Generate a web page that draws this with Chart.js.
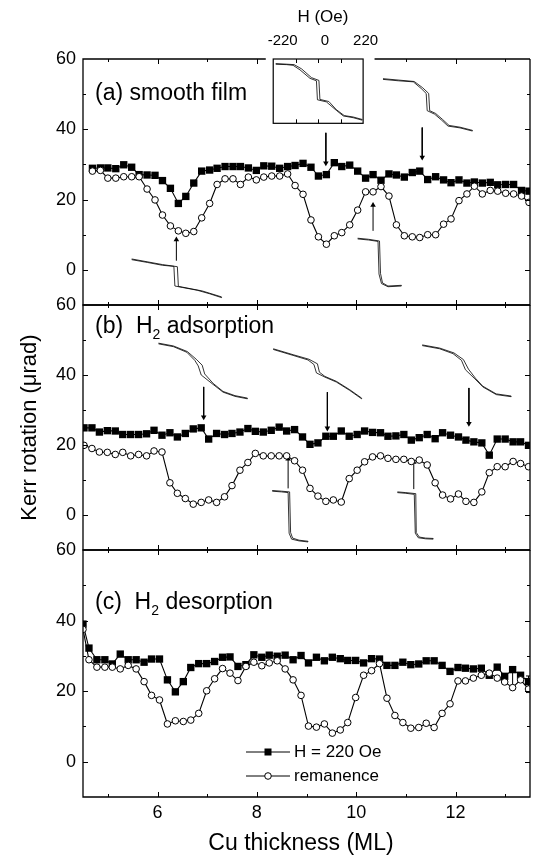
<!DOCTYPE html>
<html>
<head>
<meta charset="utf-8">
<script src="https://cdn.jsdelivr.net/npm/chart.js@4.4.1/dist/chart.umd.min.js"></script>
<style>
  html, body { margin: 0; padding: 0; background: #fff; }
  #wrap { position: relative; width: 536px; height: 858px; background: #fff; }
  #wrap canvas { position: absolute; left: 0; top: 0; }
</style>
</head>
<body>
<div id="wrap">
  <canvas id="panelA" width="536" height="858"></canvas>
  <canvas id="panelB" width="536" height="858"></canvas>
  <canvas id="panelC" width="536" height="858"></canvas>
</div>
<script>
const FONT = '"Liberation Sans", Arial, Helvetica, sans-serif';

// -----------------------------
// DATA  (Cu thickness in ML, Kerr rotation in urad)
// -----------------------------
const xTicks = [5, 6, 7, 8, 9, 10, 11, 12, 13];
const yTicks = [0, 20, 40, 60];

// (a) smooth film
const thickA = [4.69, 4.85, 5.00, 5.16, 5.32, 5.48, 5.63, 5.79, 5.95, 6.10,
                6.26, 6.42, 6.57, 6.73, 6.89, 7.05, 7.20, 7.36, 7.52, 7.67,
                7.83, 7.99, 8.14, 8.30, 8.46, 8.62, 8.77, 8.93, 9.09, 9.24,
                9.40, 9.56, 9.71, 9.87, 10.03, 10.19, 10.34, 10.50, 10.66, 10.81,
                10.97, 11.13, 11.28, 11.44, 11.60, 11.76, 11.91, 12.07, 12.23, 12.38,
                12.54, 12.70, 12.85, 13.01, 13.17, 13.33, 13.48];
const fieldA = [28.9, 29.0, 29.0, 28.8, 29.9, 29.2, 27.1, 27.0, 26.9, 25.4,
                23.2, 18.9, 20.9, 24.7, 28.1, 28.4, 28.9, 29.4, 29.4, 29.4,
                29.0, 28.3, 29.6, 29.5, 28.9, 29.4, 29.7, 30.3, 29.2, 26.7,
                27.1, 30.5, 29.4, 29.8, 28.1, 26.1, 27.1, 25.5, 27.3, 27.0,
                26.4, 27.7, 28.1, 25.7, 26.5, 25.6, 24.8, 25.6, 24.7, 25.0,
                24.7, 24.9, 24.2, 24.3, 24.3, 22.6, 22.4];
const remA   = [28.1, 28.3, 26.1, 26.1, 26.5, 26.5, 26.5, 23.0, 19.9, 15.6,
                12.5, 11.1, 10.4, 10.9, 14.8, 18.9, 24.3, 25.9, 25.9, 24.3,
                26.4, 25.6, 26.4, 26.7, 26.7, 27.3, 24.0, 21.5, 14.2, 9.4,
                7.3, 9.7, 10.6, 12.8, 17.0, 22.2, 22.2, 23.7, 21.0, 12.8,
                9.7, 9.4, 9.2, 10.0, 10.0, 13.0, 14.5, 19.7, 21.6, 23.8,
                21.6, 22.6, 22.4, 21.8, 21.6, 21.0, 19.2];

// (b) H2 adsorption
const thickB = [4.52, 4.68, 4.83, 4.99, 5.15, 5.30, 5.46, 5.62, 5.78, 5.93,
                6.09, 6.25, 6.40, 6.56, 6.72, 6.88, 7.03, 7.19, 7.35, 7.50,
                7.66, 7.82, 7.97, 8.13, 8.29, 8.45, 8.60, 8.76, 8.92, 9.07,
                9.23, 9.39, 9.54, 9.70, 9.86, 10.02, 10.17, 10.33, 10.49, 10.64,
                10.80, 10.96, 11.11, 11.27, 11.43, 11.59, 11.74, 11.90, 12.06, 12.21,
                12.37, 12.53, 12.68, 12.84, 13.00, 13.16, 13.31, 13.47];
const fieldB = [24.9, 24.9, 23.7, 24.1, 24.0, 23.0, 23.0, 23.0, 23.2, 24.2,
                22.8, 23.5, 22.3, 23.3, 24.6, 24.9, 21.7, 23.3, 23.0, 23.3,
                23.7, 24.7, 23.9, 23.7, 24.2, 25.1, 24.0, 24.4, 22.3, 20.2,
                20.6, 22.5, 22.5, 24.0, 22.5, 23.0, 24.0, 23.6, 23.5, 22.5,
                22.6, 23.0, 21.4, 22.1, 23.0, 21.8, 23.5, 22.8, 22.3, 21.4,
                20.9, 20.6, 17.1, 21.7, 21.7, 20.9, 20.9, 19.9];
const remB   = [19.9, 19.0, 18.0, 17.9, 17.3, 17.9, 16.9, 17.3, 16.9, 18.3,
                18.0, 9.2, 6.2, 4.7, 3.1, 3.6, 4.3, 3.6, 5.2, 8.4,
                12.8, 15.0, 17.6, 16.9, 16.9, 16.9, 16.9, 15.5, 12.8, 7.6,
                5.4, 3.9, 4.3, 3.7, 10.4, 12.8, 15.2, 16.6, 16.9, 16.2,
                15.9, 15.9, 15.3, 15.7, 14.3, 9.2, 5.7, 4.6, 6.0, 3.9,
                3.6, 6.6, 12.1, 13.8, 13.8, 15.3, 14.7, 13.8];

// (c) H2 desorption
const thickC = [4.50, 4.62, 4.78, 4.94, 5.09, 5.25, 5.41, 5.57, 5.73, 5.88,
                6.04, 6.20, 6.36, 6.52, 6.67, 6.83, 6.99, 7.15, 7.31, 7.46,
                7.62, 7.78, 7.94, 8.10, 8.25, 8.41, 8.57, 8.73, 8.89, 9.04,
                9.20, 9.36, 9.52, 9.68, 9.83, 9.99, 10.15, 10.31, 10.47, 10.62,
                10.78, 10.94, 11.10, 11.26, 11.41, 11.57, 11.73, 11.89, 12.05, 12.20,
                12.36, 12.52, 12.68, 12.84, 12.99, 13.15, 13.31, 13.47];
const fieldC = [39.0, 32.2, 28.9, 28.9, 27.7, 30.5, 28.9, 28.9, 28.2, 29.1,
                29.1, 23.2, 19.8, 22.7, 26.7, 27.8, 27.8, 28.4, 29.6, 29.7,
                27.0, 27.5, 30.3, 29.6, 30.2, 29.9, 30.2, 28.9, 30.1, 28.0,
                29.6, 28.6, 29.6, 29.2, 28.7, 28.7, 28.0, 29.2, 29.1, 27.3,
                27.3, 28.2, 27.5, 27.7, 28.6, 28.6, 27.3, 25.6, 26.7, 26.5,
                26.3, 26.5, 24.5, 26.8, 24.2, 26.1, 24.5, 22.7];
const remC   = [37.5, 28.9, 26.8, 26.8, 26.8, 26.3, 27.3, 26.3, 22.7, 18.8,
                17.5, 10.7, 11.6, 11.4, 11.8, 13.7, 20.1, 23.5, 26.4, 25.1,
                23.0, 27.0, 28.2, 27.2, 28.0, 28.6, 26.3, 23.2, 18.8, 10.1,
                9.8, 10.7, 8.1, 9.0, 11.1, 18.2, 24.5, 25.8, 27.8, 18.0,
                13.1, 11.1, 9.5, 9.7, 10.9, 9.7, 13.7, 16.4, 22.9, 22.9,
                23.7, 24.5, 25.1, 23.7, 22.6, 21.0, 23.2, 20.6];
// error bars near the thick end of (c): [thickness, low, high]
const errC = [[13.15, 21.3, 26.6], [13.47, 19.6, 24.3]];

// hysteresis loop traces, drawn in the panel's own units [thickness, kerr]
const loopsA = [
  [[5.48, 2.9], [5.8, 2.1], [6.1, 1.3], [6.33, 1.0], [6.35, -4.6], [6.5, -5.0], [6.8, -5.8], [7.05, -6.8], [7.29, -7.9],
   [7.29, -7.7], [6.9, -6.0], [6.42, -4.7], [6.40, 0.9], [6.1, 1.5], [5.48, 3.1]],
  [[8.38, 58.5], [8.6, 58.4], [8.73, 58.2], [8.87, 56.9], [9.07, 54.5], [9.2, 53.8], [9.22, 48.4], [9.4, 47.8], [9.6, 45.4], [9.74, 43.8], [9.94, 43.3], [10.12, 42.6],
   [10.12, 42.8], [9.94, 43.5], [9.76, 43.9], [9.6, 45.6], [9.45, 47.9], [9.27, 48.5], [9.25, 53.9], [9.1, 54.7], [8.9, 57.2], [8.75, 58.4], [8.38, 58.7]],
  [[10.54, 54.2], [10.85, 53.8], [11.15, 53.5], [11.31, 51.6], [11.41, 50.2], [11.43, 45.3], [11.58, 44.3], [11.72, 42.6], [11.85, 40.9], [12.09, 40.4], [12.34, 39.5],
   [12.34, 39.7], [12.09, 40.6], [11.87, 41.1], [11.74, 42.8], [11.6, 44.5], [11.48, 45.3], [11.46, 50.2], [11.34, 51.8], [11.17, 53.6], [10.54, 54.4]],
  [[10.03, 8.8], [10.25, 8.5], [10.44, 8.1], [10.46, -1.2], [10.51, -3.9], [10.64, -4.8], [10.91, -4.6],
   [10.91, -4.4], [10.64, -4.6], [10.53, -3.7], [10.49, -1.0], [10.47, 8.2], [10.25, 8.7], [10.03, 9.0]]
];
const loopsB = [
  [[6.02, 48.9], [6.32, 48.1], [6.59, 46.5], [6.75, 44.2], [6.82, 42.6], [6.88, 40.0], [7.12, 37.3], [7.32, 35.1], [7.56, 33.9], [7.81, 33.2],
   [7.81, 33.4], [7.56, 34.1], [7.32, 35.3], [7.12, 37.6], [6.95, 40.3], [6.9, 42.8], [6.78, 44.5], [6.6, 46.7], [6.32, 48.3], [6.02, 49.1]],
  [[8.33, 47.3], [8.73, 45.6], [9.03, 44.3], [9.15, 43.0], [9.2, 40.6], [9.37, 39.4], [9.6, 38.0], [9.87, 35.6], [10.11, 33.2],
   [10.11, 33.4], [9.87, 35.8], [9.6, 38.2], [9.37, 39.6], [9.26, 40.8], [9.22, 43.2], [9.05, 44.5], [8.73, 45.8], [8.33, 47.5]],
  [[11.33, 48.4], [11.68, 47.5], [11.95, 46.1], [12.12, 44.2], [12.2, 41.5], [12.39, 38.9], [12.55, 36.6], [12.82, 34.4], [13.12, 33.8],
   [13.12, 34.0], [12.82, 34.6], [12.55, 36.8], [12.4, 39.1], [12.26, 41.7], [12.16, 44.4], [11.97, 46.3], [11.68, 47.7], [11.33, 48.6]],
  [[8.31, 6.8], [8.5, 6.6], [8.63, 6.4], [8.65, -5.2], [8.70, -6.9], [8.85, -7.4], [9.03, -7.7],
   [9.03, -7.5], [8.85, -7.2], [8.72, -6.6], [8.68, -5.0], [8.66, 6.6], [8.5, 6.8], [8.31, 7.0]],
  [[10.83, 6.4], [11.0, 6.2], [11.17, 5.9], [11.19, -5.2], [11.25, -6.5], [11.4, -6.8], [11.55, -6.9],
   [11.55, -6.7], [11.4, -6.6], [11.27, -6.3], [11.21, -5.0], [11.2, 6.1], [11.0, 6.4], [10.83, 6.6]]
];

// arrows: [thickness, from, to]
const arrowsA = [[6.38, 2.6, 8.6], [9.39, 39.0, 30.4], [11.33, 40.5, 32.0], [10.34, 11.1, 18.4]];
const arrowsB = [[6.93, 36.6, 28.0], [9.42, 35.1, 24.8], [12.27, 36.3, 26.1], [8.63, 7.6, 16.0], [11.16, 7.4, 15.1]];

// field axis of the inset in (a)
const insetH = [-220, 0, 220];

// -----------------------------
// DATASET HELPERS
// -----------------------------
function pairs(xs, ys) {
    return xs.map((x, i) => ({ x: x, y: ys[i] }));
}

function seriesSets(thick, field, rem) {
    return [
        { label: "H = 220 Oe", data: pairs(thick, field), showLine: true,
          borderColor: "#000", borderWidth: 1.1, pointStyle: "rect", pointRadius: 5.2,
          pointBackgroundColor: "#000", pointBorderColor: "#000", pointBorderWidth: 0, order: 2 },
        { label: "remanence", data: pairs(thick, rem), showLine: true,
          borderColor: "#000", borderWidth: 1.1, pointStyle: "circle", pointRadius: 3.3,
          pointBackgroundColor: "#fff", pointBorderColor: "#000", pointBorderWidth: 1, order: 1 }
    ];
}

function loopSets(loops) {
    return loops.map(l => ({
        data: l.map(p => ({ x: p[0], y: p[1] })), showLine: true,
        borderColor: "#000", borderWidth: 0.8, pointRadius: 0, order: 3
    }));
}

function arrowSets(arrows) {
    return arrows.map(a => ({
        data: [{ x: a[0], y: a[1] }, { x: a[0], y: a[2] }], showLine: true,
        borderColor: "#000", borderWidth: 1, pointStyle: "triangle", pointRadius: [0, 3.2],
        pointRotation: a[2] > a[1] ? 0 : 180, pointBackgroundColor: "#000", pointBorderWidth: 0, order: 3
    }));
}

function errorSets(errs) {
    return errs.map(e => ({
        data: [{ x: e[0], y: e[1] }, { x: e[0], y: e[2] }], showLine: true,
        borderColor: "#000", borderWidth: 1, pointStyle: "line", pointRadius: 2.5,
        pointBorderColor: "#000", pointBorderWidth: 1, order: 3
    }));
}

// -----------------------------
// FRAME + TEXT PLUGIN
// -----------------------------
function framePlugin(cfg) {
    return {
        id: "frame",
        afterDraw(chart) {
            const { ctx, chartArea: a } = chart;
            const x = chart.scales.x, y = chart.scales.y;
            ctx.save();
            ctx.strokeStyle = "#000";
            ctx.fillStyle = "#000";

            // box round the plot, optional gap in the top edge
            ctx.lineWidth = 1.3;
            ctx.beginPath();
            ctx.moveTo(a.right, a.top);
            ctx.lineTo(a.right, a.bottom);
            ctx.lineTo(a.left, a.bottom);
            ctx.lineTo(a.left, a.top);
            if (cfg.topGap) {
                ctx.lineTo(x.getPixelForValue(cfg.topGap[0]), a.top);
                ctx.moveTo(x.getPixelForValue(cfg.topGap[1]), a.top);
            }
            ctx.lineTo(a.right, a.top);
            ctx.stroke();

            // inward ticks on all four sides
            ctx.lineWidth = 1;
            ctx.beginPath();
            for (let v = 5; v <= 13; v++) {
                const px = Math.round(x.getPixelForValue(v)) + 0.5;
                const len = v % 2 === 0 ? 5 : 3;
                ctx.moveTo(px, a.bottom); ctx.lineTo(px, a.bottom - len);
                if (!cfg.topGap || v < cfg.topGap[0] || v > cfg.topGap[1]) {
                    ctx.moveTo(px, a.top); ctx.lineTo(px, a.top + len);
                }
            }
            for (let v = 0; v <= 50; v += 10) {
                const py = Math.round(y.getPixelForValue(v)) + 0.5;
                const len = v % 20 === 0 ? 5 : 3;
                ctx.moveTo(a.left, py); ctx.lineTo(a.left + len, py);
                ctx.moveTo(a.right, py); ctx.lineTo(a.right - len, py);
            }
            ctx.stroke();

            if (cfg.draw) cfg.draw(chart, ctx, a, x, y);
            ctx.restore();
        }
    };
}

function panelLabel(ctx, pre, sub, post, px, py) {
    ctx.textAlign = "left";
    ctx.textBaseline = "alphabetic";
    ctx.font = `23px ${FONT}`;
    ctx.fillText(pre, px, py);
    let cx = px + ctx.measureText(pre).width;
    if (sub) {
        ctx.font = `14px ${FONT}`;
        ctx.fillText(sub, cx, py + 6);
        cx += ctx.measureText(sub).width;
        ctx.font = `23px ${FONT}`;
        ctx.fillText(post, cx, py);
    }
}

// -----------------------------
// OPTIONS
// -----------------------------
function makeOptions(pad, showX) {
    return {
        responsive: false,
        animation: false,
        events: [],
        layout: { padding: pad },
        plugins: { legend: { display: false }, tooltip: { enabled: false } },
        scales: {
            x: {
                type: "linear", min: 4.5, max: 13.5, display: showX,
                grid: { display: false, drawTicks: false }, border: { display: false },
                afterBuildTicks: s => { s.ticks = xTicks.map(v => ({ value: v })); },
                afterFit: s => { s.height = showX ? 61 : 0; },
                ticks: {
                    font: { family: FONT, size: 18 }, color: "#000", padding: 5,
                    autoSkip: false, maxRotation: 0,
                    callback: v => (v % 2 === 0 ? String(v) : "")
                }
            },
            y: {
                type: "linear", min: -10, max: 60,
                grid: { display: false, drawTicks: false }, border: { display: false },
                afterBuildTicks: s => { s.ticks = yTicks.map(v => ({ value: v })); },
                afterFit: s => { s.width = 83; },
                ticks: { font: { family: FONT, size: 18 }, color: "#000", padding: 7 }
            }
        }
    };
}

// -----------------------------
// PANEL (a)
// -----------------------------
const insetBox = { x0: 8.33, x1: 10.14, y0: 41.7, y1: 60 };
const insetLabelAt = [8.52, 9.37, 10.19];

new Chart(document.getElementById("panelA"), {
    type: "scatter",
    data: { datasets: [...seriesSets(thickA, fieldA, remA), ...loopSets(loopsA), ...arrowSets(arrowsA)] },
    options: makeOptions({ top: 59, bottom: 553, left: 0, right: 6 }, false),
    plugins: [framePlugin({
        topGap: [8.18, 10.37],
        draw(chart, ctx, a, x, y) {
            panelLabel(ctx, "(a) smooth film", null, null, 95, 100);

            // inset frame with its own field ticks
            const bx0 = x.getPixelForValue(insetBox.x0), bx1 = x.getPixelForValue(insetBox.x1);
            const by0 = y.getPixelForValue(insetBox.y1), by1 = y.getPixelForValue(insetBox.y0);
            ctx.lineWidth = 1.2;
            ctx.strokeRect(bx0, by0, bx1 - bx0, by1 - by0);
            ctx.lineWidth = 1;
            ctx.beginPath();
            [0.25, 0.5, 0.75].forEach(f => {
                const px = Math.round(bx0 + f * (bx1 - bx0)) + 0.5;
                ctx.moveTo(px, by0); ctx.lineTo(px, by0 + 4);
                ctx.moveTo(px, by1); ctx.lineTo(px, by1 - 4);
            });
            ctx.stroke();

            ctx.textAlign = "center";
            ctx.textBaseline = "middle";
            ctx.font = `15px ${FONT}`;
            insetH.forEach((h, i) => ctx.fillText(String(h), x.getPixelForValue(insetLabelAt[i]), 41));
            ctx.font = `17px ${FONT}`;
            ctx.fillText("H (Oe)", x.getPixelForValue(9.33), 17);
        }
    })]
});

// -----------------------------
// PANEL (b)
// -----------------------------
new Chart(document.getElementById("panelB"), {
    type: "scatter",
    data: { datasets: [...seriesSets(thickB, fieldB, remB), ...loopSets(loopsB), ...arrowSets(arrowsB)] },
    options: makeOptions({ top: 305, bottom: 308, left: 0, right: 6 }, false),
    plugins: [framePlugin({
        draw(chart, ctx, a) {
            panelLabel(ctx, "(b)  H", "2", " adsorption", 95, 333);

            // shared y title
            ctx.save();
            ctx.translate(30, (a.top + a.bottom) / 2);
            ctx.rotate(-Math.PI / 2);
            ctx.textAlign = "center";
            ctx.textBaseline = "middle";
            ctx.font = `22px ${FONT}`;
            ctx.fillText("Kerr rotation (\u03bcrad)", 0, 0);
            ctx.restore();
        }
    })]
});

// -----------------------------
// PANEL (c)
// -----------------------------
new Chart(document.getElementById("panelC"), {
    type: "scatter",
    data: { datasets: [...seriesSets(thickC, fieldC, remC), ...errorSets(errC)] },
    options: makeOptions({ top: 550, bottom: 0, left: 0, right: 6 }, true),
    plugins: [framePlugin({
        draw(chart, ctx, a) {
            panelLabel(ctx, "(c)  H", "2", " desorption", 95, 609);

            // legend
            const lx0 = a.left + 163, lx1 = a.left + 207, mx = (lx0 + lx1) / 2;
            const rows = [a.top + 202, a.top + 226];
            ctx.lineWidth = 1;
            rows.forEach(ry => {
                ctx.beginPath(); ctx.moveTo(lx0, ry); ctx.lineTo(lx1, ry); ctx.stroke();
            });
            ctx.fillRect(mx - 3.5, rows[0] - 3.5, 7, 7);
            ctx.beginPath();
            ctx.arc(mx, rows[1], 3.3, 0, Math.PI * 2);
            ctx.fillStyle = "#fff"; ctx.fill(); ctx.stroke();
            ctx.fillStyle = "#000";
            ctx.font = `17px ${FONT}`;
            ctx.textAlign = "left";
            ctx.textBaseline = "middle";
            ctx.fillText("H = 220 Oe", lx1 + 4, rows[0]);
            ctx.fillText("remanence", lx1 + 4, rows[1]);

            // x title
            ctx.textAlign = "center";
            ctx.textBaseline = "alphabetic";
            ctx.font = `23px ${FONT}`;
            ctx.fillText("Cu thickness (ML)", 301, 850);
        }
    })]
});
</script>
</body>
</html>
